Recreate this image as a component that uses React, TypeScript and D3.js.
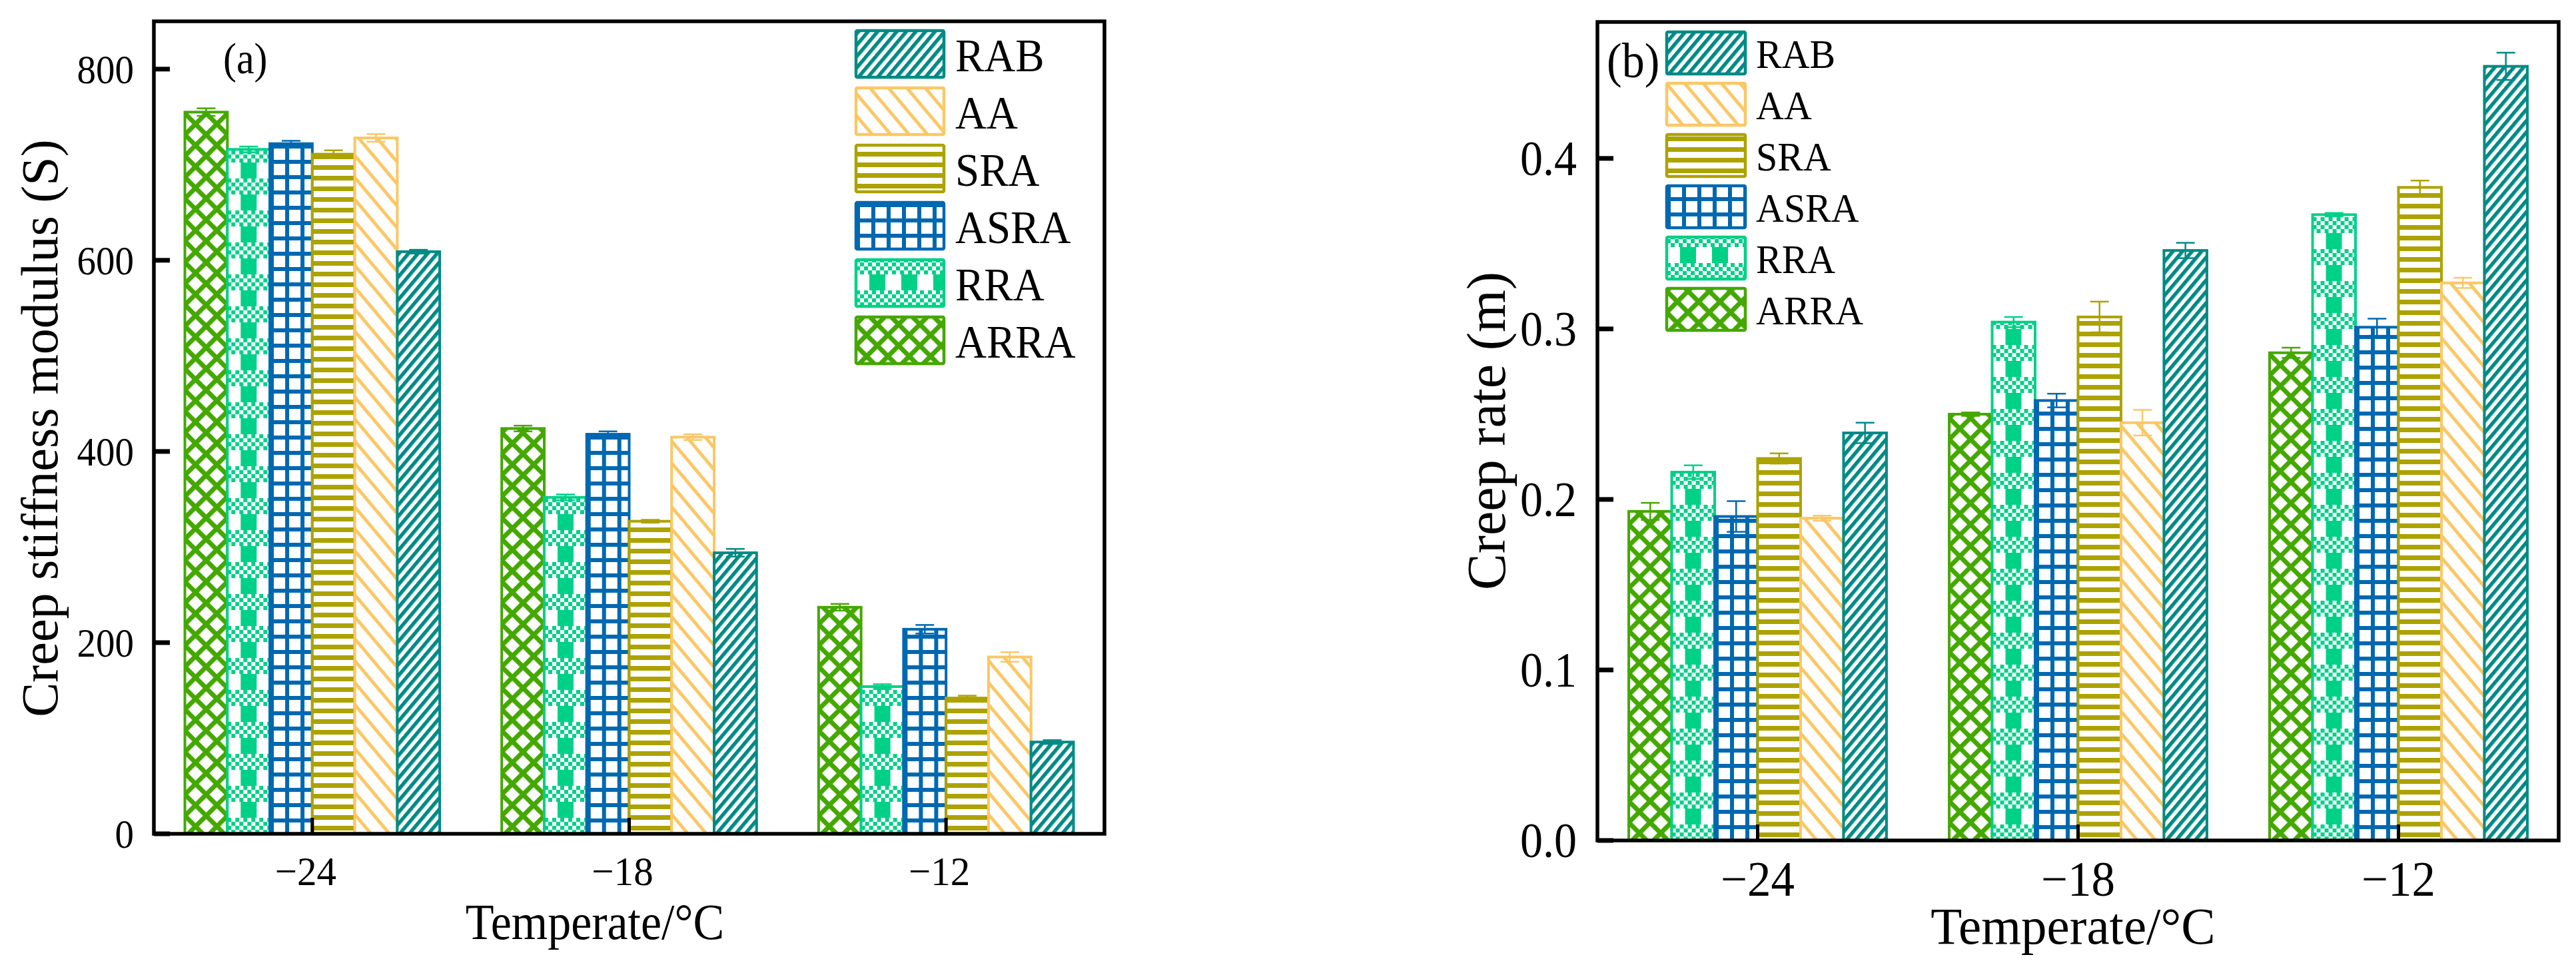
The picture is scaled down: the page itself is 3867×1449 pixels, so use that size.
import React from 'react';
import * as d3 from 'd3';

// temperatures on the x axis
const categories = ['−24', '−18', '−12'];
// bar order inside each group
const series = ['ARRA', 'RRA', 'ASRA', 'SRA', 'AA', 'RAB'];
// legend order (top to bottom)
const legendOrder = ['RAB', 'AA', 'SRA', 'ASRA', 'RRA', 'ARRA'];

// (a) creep stiffness modulus S
const stiffARRA = [755, 424, 237];
const stiffRRA = [716, 352, 154];
const stiffASRA = [722, 418, 214];
const stiffSRA = [711, 327, 142];
const stiffAA = [728, 415, 185];
const stiffRAB = [609, 294, 96];
const stiffErrARRA = [4, 3, 3.5];
const stiffErrRRA = [3, 3, 2.5];
const stiffErrASRA = [3, 3, 4.5];
const stiffErrSRA = [4, 1.5, 2.5];
const stiffErrAA = [4, 3, 5];
const stiffErrRAB = [2, 4, 2];
const stiffTicks = [0, 200, 400, 600, 800];

// (b) creep rate m
const rateARRA = [0.193, 0.25, 0.286];
const rateRRA = [0.216, 0.304, 0.367];
const rateASRA = [0.19, 0.258, 0.301];
const rateSRA = [0.224, 0.307, 0.383];
const rateAA = [0.189, 0.245, 0.327];
const rateRAB = [0.239, 0.346, 0.454];
const rateErrARRA = [0.005, 0.001, 0.003];
const rateErrRRA = [0.004, 0.003, 0.001];
const rateErrASRA = [0.009, 0.004, 0.005];
const rateErrSRA = [0.003, 0.009, 0.004];
const rateErrAA = [0.0015, 0.0075, 0.003];
const rateErrRAB = [0.006, 0.0045, 0.008];
const rateTicks = [0, 0.1, 0.2, 0.3, 0.4];

const colors: Record<string, string> = {
  ARRA: '#44a800',
  RRA: '#00d187',
  ASRA: '#0068b0',
  SRA: '#aca200',
  AA: '#fbc765',
  RAB: '#008a85',
};

const FONT = "'Liberation Serif', 'Times New Roman', serif";

function Label({ x, y, size, sy = 1, anchor = 'start', rotate = 0, children }: any) {
  return (
    <text
      transform={`translate(${x},${y}) rotate(${rotate}) scale(1,${sy})`}
      fontSize={size}
      textAnchor={anchor}
      fontFamily={FONT}
      fill="#000"
    >
      {children}
    </text>
  );
}

function Patterns() {
  const c = colors;
  const checker: JSX.Element[] = [];
  for (let r = 0; r < 4; r++) {
    for (let k = 0; k < 8; k++) {
      if ((r + k) % 2 === 0) {
        checker.push(<rect key={`${r}-${k}`} x={k * 6} y={24 + r * 6} width={6} height={6} fill={c.RRA} />);
      }
    }
  }
  return (
    <defs>
      <pattern id="p-RAB" patternUnits="userSpaceOnUse" width={11} height={11} patternTransform="rotate(-50)">
        <rect width={11} height={11} fill="#fff" />
        <rect width={11} height={5.5} fill={c.RAB} />
      </pattern>
      <pattern id="p-AA" patternUnits="userSpaceOnUse" width={21.2} height={21.2} patternTransform="rotate(50)">
        <rect width={21.2} height={21.2} fill="#fff" />
        <rect width={21.2} height={5} fill={c.AA} />
      </pattern>
      <pattern id="p-SRA" patternUnits="userSpaceOnUse" width={16} height={16}>
        <rect width={16} height={16} fill="#fff" />
        <rect y={4} width={16} height={7} fill={c.SRA} />
      </pattern>
      <pattern id="p-ASRA" patternUnits="userSpaceOnUse" width={23} height={23}>
        <rect width={23} height={23} fill="#fff" />
        <rect x={0} width={6} height={23} fill={c.ASRA} />
        <rect y={0} width={23} height={6} fill={c.ASRA} />
      </pattern>
      <pattern id="p-RRA" patternUnits="userSpaceOnUse" width={48} height={48}>
        <rect width={48} height={48} fill="#fff" />
        <rect x={20} y={0} width={24} height={24} fill={c.RRA} />
        {checker}
      </pattern>
      <pattern id="p-ARRA" patternUnits="userSpaceOnUse" width={22.6} height={22.6} patternTransform="rotate(45)">
        <rect width={22.6} height={22.6} fill="#fff" />
        <rect width={22.6} height={7} fill={c.ARRA} />
        <rect width={7} height={22.6} fill={c.ARRA} />
      </pattern>
    </defs>
  );
}

interface PanelProps {
  values: Record<string, number[]>;
  errors: Record<string, number[]>;
  domainMax: number;
  ticks: number[];
  fmt: (v: number) => string;
  left: number;
  right: number;
  top: number;
  bottom: number;
  yTitle: string;
  yTitleX: number;
  yTitleY: number;
  yTitleSize: number;
  yTickSize: number;
  yTickSy: number;
  yTickGap: number;
  xTickSize: number;
  xTickSy: number;
  xTickShift: number;
  xTickDy: number;
  xTitleX: number;
  xTitleY: number;
  xTitleSize: number;
  xTitleSy: number;
  tag: string;
  tagX: number;
  tagY: number;
  tagSize: number;
  legX: number;
  legY: number;
  legW: number;
  legH: number;
  legStep: number;
  legTextX: number;
  legTextDy: number;
  legSize: number;
}

function Panel(p: PanelProps) {
  const x0 = d3.scaleBand().domain(categories).range([p.left, p.right]).paddingInner(0).paddingOuter(0);
  const x1 = d3.scaleBand().domain(series).range([0, x0.bandwidth()]).paddingInner(0).paddingOuter(0.73);
  const y = d3.scaleLinear().domain([0, p.domainMax]).range([p.bottom, p.top]);
  const y0 = y(0);

  return (
    <g>
      {/* bars */}
      {categories.map((cat, ci) =>
        series.map((s) => {
          const v = p.values[s][ci];
          const bx = (x0(cat) as number) + (x1(s) as number);
          const h = y0 - y(v);
          return (
            <g key={`${cat}-${s}`} transform={`translate(${bx},${y0})`}>
              <rect x={0} y={-h} width={x1.bandwidth()} height={h} fill={`url(#p-${s})`} stroke={colors[s]} strokeWidth={4} />
            </g>
          );
        })
      )}
      {/* error bars */}
      {categories.map((cat, ci) =>
        series.map((s) => {
          const v = p.values[s][ci];
          const e = p.errors[s][ci];
          const cx = (x0(cat) as number) + (x1(s) as number) + x1.bandwidth() / 2;
          const col = colors[s];
          return (
            <g key={`e-${cat}-${s}`} stroke={col} strokeWidth={2.5}>
              <line x1={cx} x2={cx} y1={y(v + e)} y2={y(v - e)} />
              <line x1={cx - 14} x2={cx + 14} y1={y(v + e)} y2={y(v + e)} />
              <line x1={cx - 14} x2={cx + 14} y1={y(v - e)} y2={y(v - e)} />
            </g>
          );
        })
      )}
      {/* frame */}
      <rect x={p.left} y={p.top} width={p.right - p.left} height={p.bottom - p.top} fill="none" stroke="#000" strokeWidth={5.5} />
      {/* y ticks */}
      {p.ticks.map((t) => (
        <g key={`yt-${t}`}>
          <line x1={p.left} x2={p.left + 24} y1={y(t)} y2={y(t)} stroke="#000" strokeWidth={7} />
          <Label x={p.left - p.yTickGap} y={y(t) + p.yTickSize * 0.338 * p.yTickSy} size={p.yTickSize} sy={p.yTickSy} anchor="end">
            {p.fmt(t)}
          </Label>
        </g>
      ))}
      {/* x ticks */}
      {categories.map((cat) => {
        const cx = (x0(cat) as number) + x0.bandwidth() / 2;
        return (
          <g key={`xt-${cat}`}>
            <line x1={cx} x2={cx} y1={p.bottom} y2={p.bottom - 24} stroke="#000" strokeWidth={5} />
            <Label x={cx + p.xTickShift} y={p.bottom + p.xTickDy} size={p.xTickSize} sy={p.xTickSy} anchor="middle">
              {cat}
            </Label>
          </g>
        );
      })}
      {/* axis titles */}
      <Label x={p.xTitleX} y={p.xTitleY} size={p.xTitleSize} sy={p.xTitleSy} anchor="middle">
        Temperate/°C
      </Label>
      <Label x={p.yTitleX} y={p.yTitleY} size={p.yTitleSize} anchor="middle" rotate={-90}>
        {p.yTitle}
      </Label>
      <Label x={p.tagX} y={p.tagY} size={p.tagSize} sy={1.1}>
        {p.tag}
      </Label>
      {/* legend */}
      {legendOrder.map((s, i) => {
        const ty = p.legY + i * p.legStep;
        return (
          <g key={`leg-${s}`}>
            <g transform={`translate(${p.legX},${ty + p.legH})`}>
              <rect x={0} y={-p.legH} width={p.legW} height={p.legH} rx={2} fill={`url(#p-${s})`} stroke={colors[s]} strokeWidth={4.5} />
            </g>
            <Label x={p.legTextX} y={ty + p.legTextDy} size={p.legSize} sy={1.06}>
              {s}
            </Label>
          </g>
        );
      })}
    </g>
  );
}

export default function App() {
  const stiff = { ARRA: stiffARRA, RRA: stiffRRA, ASRA: stiffASRA, SRA: stiffSRA, AA: stiffAA, RAB: stiffRAB };
  const stiffErr = { ARRA: stiffErrARRA, RRA: stiffErrRRA, ASRA: stiffErrASRA, SRA: stiffErrSRA, AA: stiffErrAA, RAB: stiffErrRAB };
  const rate = { ARRA: rateARRA, RRA: rateRRA, ASRA: rateASRA, SRA: rateSRA, AA: rateAA, RAB: rateRAB };
  const rateErr = { ARRA: rateErrARRA, RRA: rateErrRRA, ASRA: rateErrASRA, SRA: rateErrSRA, AA: rateErrAA, RAB: rateErrRAB };

  return (
    <svg
      width={3867}
      height={1449}
      style={{ position: 'absolute', left: 0, top: 0, display: 'block', background: '#fff' }}
    >
      <rect width={3867} height={1449} fill="#fff" />
      <Patterns />
      <Panel
        values={stiff}
        errors={stiffErr}
        domainMax={850}
        ticks={stiffTicks}
        fmt={(v) => String(v)}
        left={231}
        right={1658}
        top={32}
        bottom={1252}
        yTitle="Creep stiffness modulus (S)"
        yTitleX={86}
        yTitleY={643}
        yTitleSize={78}
        yTickSize={57}
        yTickSy={1.08}
        yTickGap={30}
        xTickSize={59}
        xTickSy={1.05}
        xTickShift={-10}
        xTickDy={77}
        xTitleX={893}
        xTitleY={1410}
        xTitleSize={70}
        xTitleSy={1.08}
        tag="(a)"
        tagX={335}
        tagY={110}
        tagSize={60}
        legX={1285}
        legY={46}
        legW={132}
        legH={70}
        legStep={86}
        legTextX={1434}
        legTextDy={61}
        legSize={65}
      />
      <Panel
        values={rate}
        errors={rateErr}
        domainMax={0.48}
        ticks={rateTicks}
        fmt={d3.format('.1f')}
        left={2398}
        right={3841}
        top={33}
        bottom={1262}
        yTitle="Creep rate (m)"
        yTitleX={2259}
        yTitleY={647}
        yTitleSize={82}
        yTickSize={68}
        yTickSy={1.1}
        yTickGap={31}
        xTickSize={71}
        xTickSy={1.04}
        xTickShift={0}
        xTickDy={83}
        xTitleX={3112}
        xTitleY={1417}
        xTitleSize={77}
        xTitleSy={1.03}
        tag="(b)"
        tagX={2412}
        tagY={116}
        tagSize={68}
        legX={2502}
        legY={48}
        legW={118}
        legH={63}
        legStep={77}
        legTextX={2636}
        legTextDy={54}
        legSize={58}
      />
    </svg>
  );
}
